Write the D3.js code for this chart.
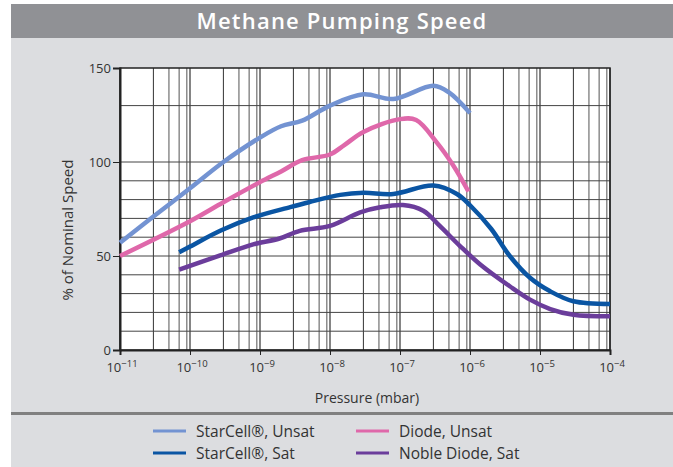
<!DOCTYPE html>
<html>
<head>
<meta charset="utf-8">
<script src="https://cdn.jsdelivr.net/npm/d3@7"></script>
<style>
  body { margin: 0; background: #fff; }
  svg { display: block; font-family: "Open Sans", sans-serif; }
</style>
</head>
<body>
<script>
// Methane pumping speed vs pressure, four pump types.

const decades = [1e-11, 1e-10, 1e-9, 1e-8, 1e-7, 1e-6, 1e-5, 1e-4];
const minorSteps = [3, 5, 7, 9];
const yTicks = [0, 50, 100, 150];
const yGrid = [10, 20, 30, 40, 50, 60, 70, 80, 90, 100, 130];

// [pressure mbar, % of nominal speed]
const starcellUnsat = [[1e-11, 57], [3e-11, 71], [1e-10, 86], [3e-10, 100], [1e-9, 113], [2e-9, 119],
  [4e-9, 122], [1e-8, 130], [3e-8, 136], [8e-8, 133.5], [3e-7, 140.5], [5e-7, 137], [1e-6, 126]];
const diodeUnsat = [[1e-11, 50], [1e-10, 68.5], [3e-10, 78.6], [1e-9, 89.3], [2e-9, 95], [4e-9, 101],
  [1e-8, 104], [1.6e-8, 109], [3e-8, 116], [1e-7, 122.8], [1.7e-7, 122.3], [3.3e-7, 110.7], [5.8e-7, 98], [9.5e-7, 84.3]];
const starcellSat = [[7e-11, 52], [1e-10, 55], [2.7e-10, 63.4], [8e-10, 70.5], [2.7e-9, 76], [5e-9, 78.6],
  [1.4e-8, 82.5], [3e-8, 83.6], [8e-8, 83], [3e-7, 87.5], [6.5e-7, 83], [1e-6, 77], [2e-6, 64.5],
  [3.7e-6, 50], [7.2e-6, 38.4], [1.4e-5, 31.2], [3e-5, 25.9], [1e-4, 24.5]];
const nobleSat = [[7e-11, 42.7], [2.7e-10, 50.3], [8e-10, 56.2], [1.9e-9, 59.3], [3.7e-9, 63.4], [1e-8, 66],
  [2.7e-8, 73.2], [5.2e-8, 75.9], [1.1e-7, 77.1], [2.15e-7, 74.1], [3.7e-7, 66], [7.2e-7, 55.3],
  [1.4e-6, 45.5], [3.7e-6, 33.9], [7.2e-6, 26.8], [1.4e-5, 21.8], [3e-5, 18.7], [1e-4, 17.9]];

const seriesNames = ["StarCell®, Unsat", "StarCell®, Sat", "Diode, Unsat", "Noble Diode, Sat"];
const seriesData = [starcellUnsat, starcellSat, diodeUnsat, nobleSat];
const seriesColors = ["#7393d2", "#0a55a3", "#df68aa", "#6b3d9b"];
// draw order, back to front
const drawOrder = [0, 2, 1, 3];

const width = 673, height = 467;
const plotLeft = 120, plotRight = 610, plotTop = 68, plotBottom = 350;

const svg = d3.select("body").append("svg")
    .attr("width", width)
    .attr("height", height);

// panel background and title band
svg.append("rect").attr("x", 11).attr("y", 4).attr("width", width - 11).attr("height", height - 4)
    .attr("fill", "#dcdde0");
svg.append("rect").attr("x", 11).attr("y", 4).attr("width", width - 11).attr("height", 34)
    .attr("fill", "#909195");
svg.append("text")
    .attr("x", 342).attr("y", 29)
    .attr("text-anchor", "middle")
    .attr("fill", "#fff")
    .attr("font-size", 22)
    .attr("font-weight", 600)
    .attr("letter-spacing", 1.2)
    .text("Methane Pumping Speed");

const x = d3.scaleLog().domain([1e-11, 1e-4]).range([plotLeft, plotRight]);
const y = d3.scaleLinear().domain([0, 150]).range([plotBottom, plotTop]);

svg.append("rect").attr("x", plotLeft).attr("y", plotTop)
    .attr("width", plotRight - plotLeft).attr("height", plotBottom - plotTop)
    .attr("fill", "#fff");

// grid
const minorVals = [];
decades.slice(0, -1).forEach(d => minorSteps.forEach(m => minorVals.push({ v: m * d, m: m })));

svg.append("g").selectAll("line")
    .data(minorVals)
    .join("line")
    .attr("x1", d => x(d.v)).attr("x2", d => x(d.v))
    .attr("y1", plotTop).attr("y2", plotBottom)
    .attr("stroke", d => d.m === 3 ? "#333" : "#7a7a7a")
    .attr("stroke-width", d => d.m === 3 ? 1 : 1.3);

svg.append("g").selectAll("line")
    .data(decades)
    .join("line")
    .attr("x1", d => x(d)).attr("x2", d => x(d))
    .attr("y1", plotTop).attr("y2", plotBottom)
    .attr("stroke", "#333")
    .attr("stroke-width", 1.2);

svg.append("g").selectAll("line")
    .data(yGrid)
    .join("line")
    .attr("x1", plotLeft).attr("x2", plotRight)
    .attr("y1", d => y(d)).attr("y2", d => y(d))
    .attr("stroke", "#444")
    .attr("stroke-width", 1);

// frame
svg.append("rect").attr("x", plotLeft).attr("y", plotTop)
    .attr("width", plotRight - plotLeft).attr("height", plotBottom - plotTop)
    .attr("fill", "none").attr("stroke", "#222").attr("stroke-width", 1.5);

// axes
const yAxis = svg.append("g")
    .attr("transform", `translate(${plotLeft},0)`)
    .call(d3.axisLeft(y).tickValues(yTicks).tickSize(7).tickPadding(2));
yAxis.select(".domain").attr("stroke", "#222").attr("stroke-width", 2);
yAxis.selectAll(".tick line").attr("stroke", "#222");
yAxis.selectAll(".tick text")
    .attr("font-family", "Open Sans, sans-serif")
    .attr("font-size", 13)
    .attr("fill", "#333");

const xAxis = svg.append("g")
    .attr("transform", `translate(0,${plotBottom})`)
    .call(d3.axisBottom(x).tickValues(decades).tickSize(5).tickFormat(""));
xAxis.select(".domain").attr("stroke", "#222").attr("stroke-width", 2);
xAxis.selectAll(".tick line").attr("stroke", "#222");

const xLabels = svg.append("g").selectAll("text")
    .data(decades)
    .join("text")
    .attr("x", d => x(d) + 2)
    .attr("y", plotBottom + 22)
    .attr("text-anchor", "middle")
    .attr("font-size", 13)
    .attr("fill", "#333");
xLabels.append("tspan").text("10");
xLabels.append("tspan")
    .attr("dy", -5)
    .attr("font-size", 9.5)
    .text(d => "−" + Math.round(-Math.log10(d)));

svg.append("text")
    .attr("x", 367).attr("y", 403)
    .attr("text-anchor", "middle")
    .attr("font-size", 14)
    .attr("fill", "#333")
    .text("Pressure (mbar)");

svg.append("text")
    .attr("transform", "translate(73,230) rotate(-90)")
    .attr("text-anchor", "middle")
    .attr("font-size", 15)
    .attr("fill", "#333")
    .text("% of Nominal Speed");

// curves
const line = d3.line()
    .x(d => x(d[0]))
    .y(d => y(d[1]))
    .curve(d3.curveCatmullRom.alpha(0.5));

svg.append("g").selectAll("path")
    .data(drawOrder)
    .join("path")
    .attr("d", i => line(seriesData[i]))
    .attr("fill", "none")
    .attr("stroke", i => seriesColors[i])
    .attr("stroke-width", 4.5);

// separator and legend
svg.append("rect").attr("x", 11).attr("y", 412).attr("width", width - 11).attr("height", 3)
    .attr("fill", "#808080");

const legendPos = [[153, 431], [153, 453], [356, 431], [356, 453]];
const legend = svg.append("g").selectAll("g")
    .data(seriesNames)
    .join("g")
    .attr("transform", (d, i) => `translate(${legendPos[i][0]},${legendPos[i][1]})`);
legend.append("line")
    .attr("x1", 0).attr("x2", 33)
    .attr("stroke", (d, i) => seriesColors[i])
    .attr("stroke-width", 3);
legend.append("text")
    .attr("x", 43).attr("y", 5.5)
    .attr("font-size", 15.5)
    .attr("fill", "#333")
    .text(d => d);
</script>
</body>
</html>
